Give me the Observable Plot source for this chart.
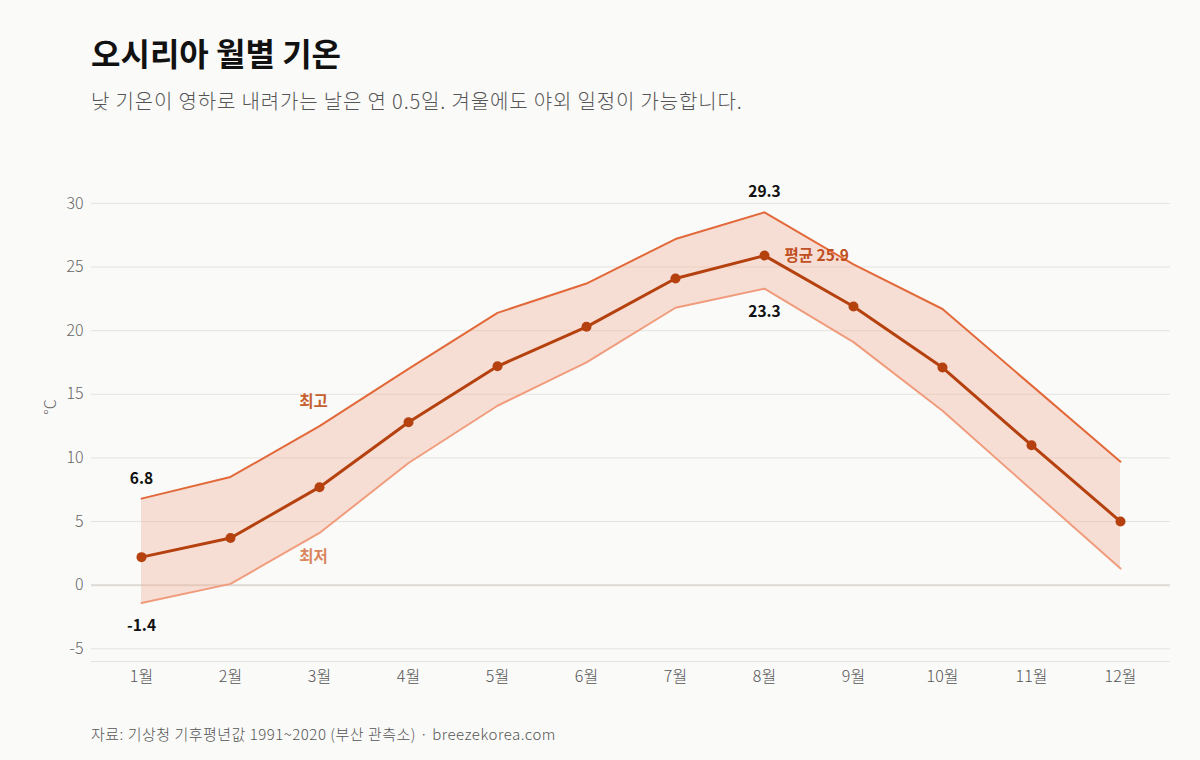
<!DOCTYPE html>
<html><head><meta charset="utf-8">
<script src="https://cdn.jsdelivr.net/npm/d3@7"></script>
<script src="https://cdn.jsdelivr.net/npm/@observablehq/plot@0.6"></script>
<style>
body{margin:0;background:#fafaf9;font-family:"Noto Sans CJK KR","Noto Sans",sans-serif;}
#wrap{position:relative;width:1200px;height:760px;overflow:hidden;}
#title{position:absolute;left:91px;top:36px;font-size:32px;line-height:1;font-weight:700;color:#111;margin:0;}
#subtitle{position:absolute;left:91px;top:91px;font-size:20px;line-height:1;color:#555;font-weight:300;letter-spacing:0.85px;margin:0;}
#chart{position:absolute;left:0;top:130px;}
#caption{position:absolute;left:91px;top:726px;font-size:15px;line-height:1;color:#555;font-weight:300;letter-spacing:0.5px;margin:0;}
</style></head>
<body><div id="wrap">
<h1 id="title">오시리아 월별 기온</h1>
<p id="subtitle">낮 기온이 영하로 내려가는 날은 연 0.5일. 겨울에도 야외 일정이 가능합니다.</p>
<div id="chart"></div>
<p id="caption">자료: 기상청 기후평년값 1991~2020 (부산 관측소) · breezekorea.com</p>
</div>
<script>
const months = ["1월","2월","3월","4월","5월","6월","7월","8월","9월","10월","11월","12월"];
const tMax  = [6.8, 8.5, 12.5, 17.0, 21.4, 23.7, 27.2, 29.3, 25.2, 21.7, 15.7, 9.7];
const tMean = [2.2, 3.7, 7.7, 12.8, 17.2, 20.3, 24.1, 25.9, 21.9, 17.1, 11.0, 5.0];
const tMin  = [-1.4, 0.1, 4.1, 9.6, 14.1, 17.5, 21.8, 23.3, 19.1, 13.7, 7.5, 1.3];
const yTicks = [-5, 0, 5, 10, 15, 20, 25, 30];
const yDomain = [-6, 34];
const valueLabelsTop = [{month:"1월", v:6.8}, {month:"8월", v:29.3}];
const valueLabelsBottom = [{month:"1월", v:-1.4}, {month:"8월", v:23.3}];
const meanLabel = [{month:"8월", v:25.9, text:"평균 25.9"}];
const seriesLabelMax = [{month:"3월", v:12.5, text:"최고"}];
const seriesLabelMin = [{month:"3월", v:4.1, text:"최저"}];

const data = months.map((m,i)=>({month:m, max:tMax[i], mean:tMean[i], min:tMin[i]}));

const cMax = "#e2693a", cMin = "#f09c7c", cMean = "#b5410f";

const chart = Plot.plot({
  width: 1200,
  height: 560,
  marginLeft: 91,
  marginRight: 30,
  marginTop: 22,
  marginBottom: 29,
  style: {background: "transparent", fontFamily: '"Noto Sans CJK KR","Noto Sans",sans-serif'},
  x: {type: "point", domain: months, padding: 0.54},
  y: {domain: yDomain},
  marks: [
    Plot.gridY(yTicks, {stroke: "#e6e3de", strokeOpacity: 1}),
    Plot.ruleY([0], {stroke: "#dedbd6", strokeWidth: 2}),
    Plot.ruleY([yDomain[0]], {stroke: "#e6e3de"}),
    Plot.areaY(data, {x: "month", y1: "min", y2: "max", fill: "#f3a888", fillOpacity: 0.33}),
    Plot.lineY(data, {x: "month", y: "max", stroke: cMax, strokeWidth: 2}),
    Plot.lineY(data, {x: "month", y: "min", stroke: cMin, strokeWidth: 2}),
    Plot.lineY(data, {x: "month", y: "mean", stroke: cMean, strokeWidth: 3}),
    Plot.dot(data, {x: "month", y: "mean", r: 5, fill: cMean}),
    Plot.text(valueLabelsTop, {x: "month", y: "v", text: d => d.v.toFixed(1), dy: -20, fontSize: 15.5, fontWeight: 700, fill: "#111"}),
    Plot.text(valueLabelsBottom, {x: "month", y: "v", text: d => d.v.toFixed(1), dy: 23, fontSize: 15.5, fontWeight: 700, fill: "#111"}),
    Plot.text(meanLabel, {x: "month", y: "v", text: "text", dx: 20, textAnchor: "start", fontSize: 15.5, fontWeight: 700, fill: "#c0501f"}),
    Plot.text(seriesLabelMax, {x: "month", y: "v", text: "text", dx: -6, dy: -24, fontSize: 15.5, fontWeight: 700, fill: "#c5602f"}),
    Plot.text(seriesLabelMin, {x: "month", y: "v", text: "text", dx: -6, dy: 24, fontSize: 15.5, fontWeight: 700, fill: "#d9865e"}),
    Plot.axisY(yTicks, {tickSize: 0, tickPadding: 8, fontSize: 16, fontWeight: 300, fill: "#666", tickFormat: d => String(d), label: "°C", labelAnchor: "center", labelArrow: "none", labelOffset: 47}),
    Plot.axisX({tickSize: 0, tickPadding: 9, fontSize: 16, fontWeight: 300, fill: "#555", label: null})
  ]
});
document.getElementById("chart").appendChild(chart);
</script>
</body></html>
